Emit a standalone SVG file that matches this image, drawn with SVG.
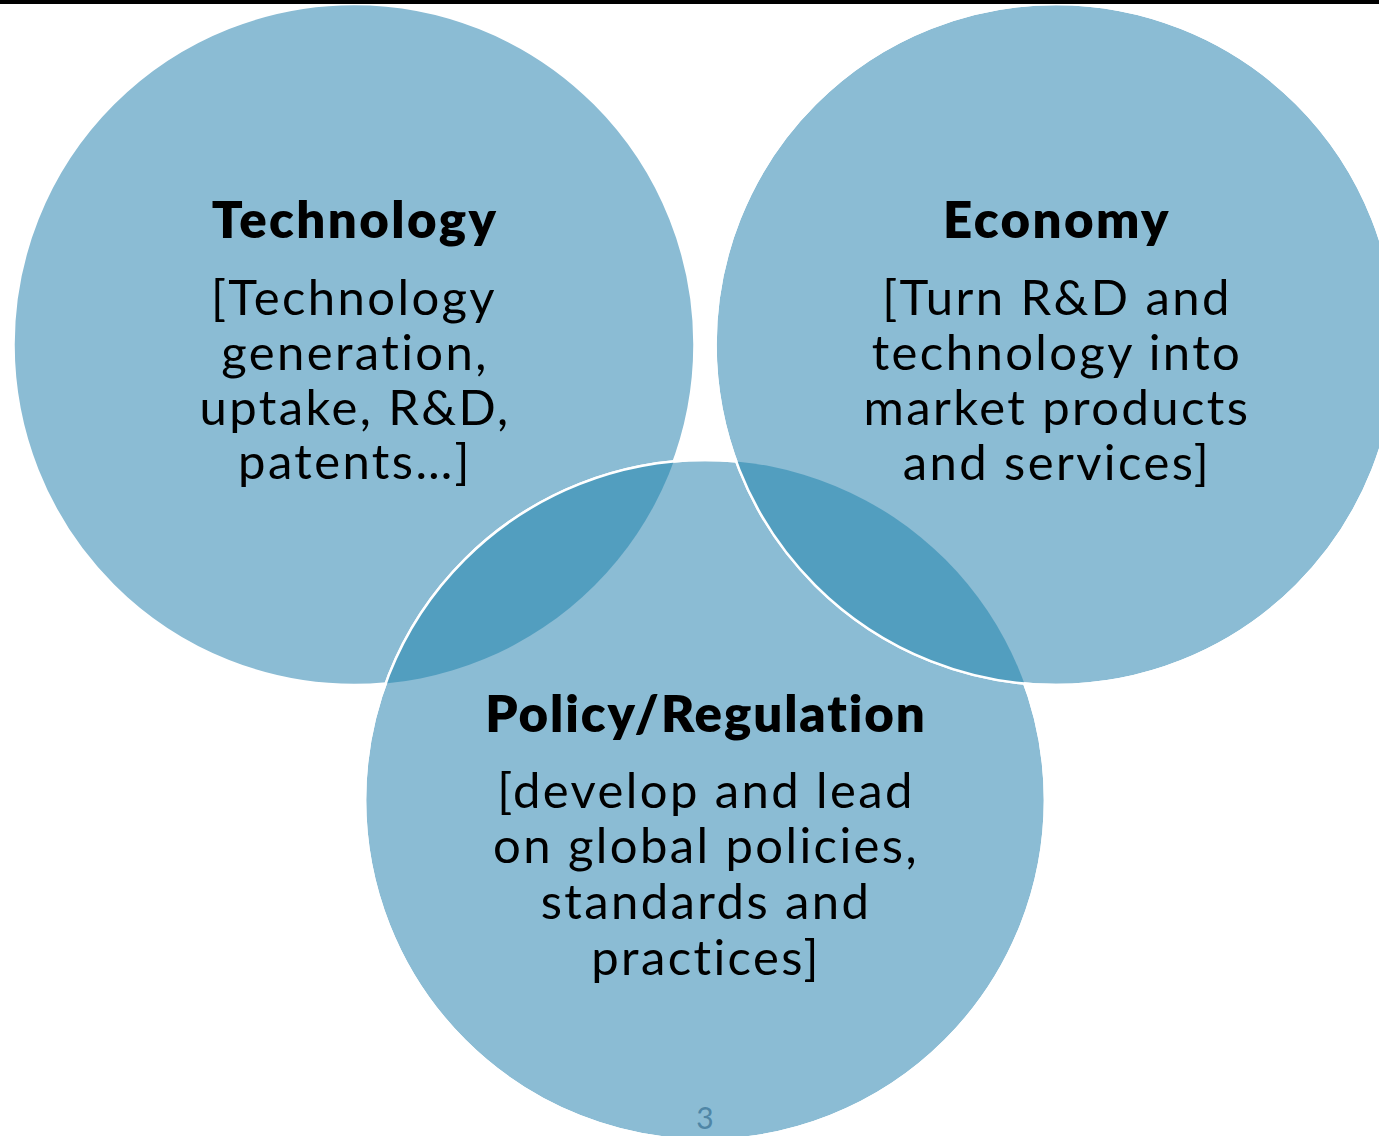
<svg xmlns="http://www.w3.org/2000/svg" width="1379" height="1136" viewBox="0 0 1379 1136">
<style>
.c{fill:#8bbcd4;stroke:#ffffff;stroke-width:2.5}
.o{fill:none;stroke:#ffffff;stroke-width:2.5}
.lens{fill:#529ebf;stroke:none}
text{font-family:Lato,"Liberation Sans",sans-serif;font-variant-ligatures:none;font-feature-settings:"liga" 0;text-anchor:middle}
.t{font-weight:800;font-size:51px;fill:#000;letter-spacing:2.4px}
.b{font-weight:400;font-size:49px;fill:#000;letter-spacing:2.4px}
.pg{font-size:30px;fill:#4f86a6}
</style>
<defs>
<clipPath id="clipTech"><circle cx="354" cy="344.5" r="340.5"/></clipPath>
<clipPath id="clipEcon"><circle cx="1056" cy="344.5" r="340.5"/></clipPath>
</defs>
<rect x="0" y="0" width="1379" height="1136" fill="#ffffff"/>
<g id="technology">
<circle class="c" cx="354" cy="344.5" r="340.5"/>
</g>
<g id="policy">
<circle class="c" cx="705" cy="800" r="340"/>
</g>
<g id="overlap-tech-policy">
<circle class="lens" cx="705" cy="800" r="340" clip-path="url(#clipTech)"/>
<circle class="o" cx="705" cy="800" r="340"/>
</g>
<g id="economy">
<circle class="c" cx="1056" cy="344.5" r="340.5"/>
</g>
<g id="overlap-econ-policy">
<circle class="lens" cx="705" cy="800" r="340" clip-path="url(#clipEcon)"/>
<circle class="o" cx="1056" cy="344.5" r="340.5"/>
</g>
<rect x="0" y="0" width="1379" height="4" fill="#000000"/>
<g id="technology-text">
<text class="t" x="355" y="238">Technology</text>
<text class="b" x="354" y="315">[Technology</text>
<text class="b" x="355" y="370">generation,</text>
<text class="b" x="355" y="425">uptake, R&amp;D,</text>
<text class="b" x="355" y="479">patents…]</text>
</g>
<g id="economy-text">
<text class="t" x="1057" y="238">Economy</text>
<text class="b" x="1057" y="315">[Turn R&amp;D and</text>
<text class="b" x="1057" y="370">technology into</text>
<text class="b" x="1057" y="425">market products</text>
<text class="b" x="1057" y="480">and services]</text>
</g>
<g id="policy-text">
<text class="t" x="706" y="732" style="letter-spacing:1.9px">Policy/Regulation</text>
<text class="b" x="706" y="808">[develop and lead</text>
<text class="b" x="706" y="863">on global policies,</text>
<text class="b" x="706" y="919">standards and</text>
<text class="b" x="706" y="975">practices]</text>
</g>
<text class="pg" x="705" y="1129">3</text>
</svg>
